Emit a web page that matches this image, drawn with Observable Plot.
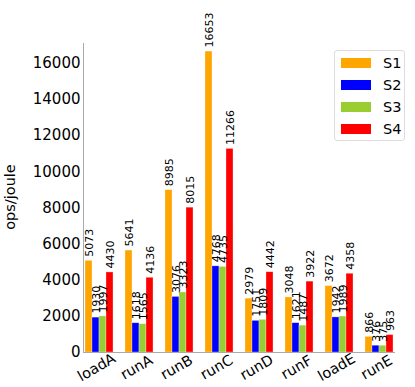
<!DOCTYPE html>
<html><head><meta charset="utf-8">
<script src="https://cdn.jsdelivr.net/npm/d3@7"></script>
<script src="https://cdn.jsdelivr.net/npm/@observablehq/plot@0.6"></script>
<style>
body{margin:0;background:#fff;font-family:"DejaVu Sans",sans-serif;}
#wrap{position:relative;width:415px;height:387px;}
#legend{position:absolute;left:334px;top:50px;width:71px;height:91px;border:1px solid #ddd;border-radius:3px;background:rgba(255,255,255,0.8);box-sizing:border-box;}
.row{position:absolute;left:6px;height:12px;display:flex;align-items:center;font-size:14.5px;color:#000;}
.sw{width:30px;height:10px;margin-right:12px;}
#ylab{position:absolute;left:10px;top:197px;font-size:14.5px;color:#000;white-space:nowrap;transform:translate(-50%,-50%) rotate(-90deg);}
</style>
</head><body><div id="wrap"><div id="legend"></div><div id="ylab"></div></div>
<script>
const categories = ["loadA","runA","runB","runC","runD","runF","loadE","runE"];
const seriesNames = ["S1","S2","S3","S4"];
const colors = ["#FFA500","#0000FF","#9ACD32","#FF0000"];
const S1 = [5073,5641,8985,16653,2979,3048,3672,866];
const S2 = [1930,1618,3076,4768,1751,1621,1942,376];
const S3 = [1997,1565,3323,4735,1809,1487,1989,375];
const S4 = [4430,4136,8015,11266,4442,3922,4358,963];
const yTicks = [0,2000,4000,6000,8000,10000,12000,14000,16000];
const yLabel = "ops/joule";

const seriesVals = [S1,S2,S3,S4];
const data = [];
categories.forEach((c,i)=>seriesNames.forEach((s,j)=>data.push({cat:c,series:s,value:seriesVals[j][i]})));

const chart = Plot.plot({
  width:415, height:387,
  marginLeft:64, marginRight:2, marginTop:43, marginBottom:35,
  style:{fontFamily:"DejaVu Sans, sans-serif", background:"white"},
  fx:{domain:categories, paddingInner:0.22, paddingOuter:0.37, axis:null, label:null},
  x:{domain:seriesNames, padding:0, axis:null},
  y:{domain:[0,17100]},
  color:{domain:seriesNames, range:colors},
  marks:[
    Plot.barY(data,{fx:"cat", x:"series", y:"value", fill:"series", inset:0, stroke:"white", strokeOpacity:0.5, strokeWidth:0.6}),
    Plot.text(data,{fx:"cat", x:"series", y:"value", text:d=>String(d.value), rotate:-90, textAnchor:"start", dy:-4, fontSize:11, fill:"black"}),
    Plot.text(categories,{fx:d=>d, text:d=>d, frameAnchor:"bottom", dy:19, rotate:-30, fontSize:14.5, fill:"black"}),
    Plot.axisY({ticks:yTicks, tickFormat:d3.format("d"), tickSize:0, tickPadding:3, fontSize:15, label:null}),
    Plot.frame({anchor:"left", facet:"super", stroke:"#aaa"}),
    Plot.frame({anchor:"bottom", facet:"super", stroke:"#aaa"})
  ]
});
document.getElementById("wrap").prepend(chart);
document.getElementById("ylab").textContent = yLabel;
const lg = document.getElementById("legend");
seriesNames.forEach((s,i)=>{
  const r=document.createElement("div"); r.className="row"; r.style.top=(6+22*i)+"px";
  const sw=document.createElement("div"); sw.className="sw"; sw.style.background=colors[i];
  r.appendChild(sw); r.appendChild(document.createTextNode(s)); lg.appendChild(r);
});
</script></body></html>
